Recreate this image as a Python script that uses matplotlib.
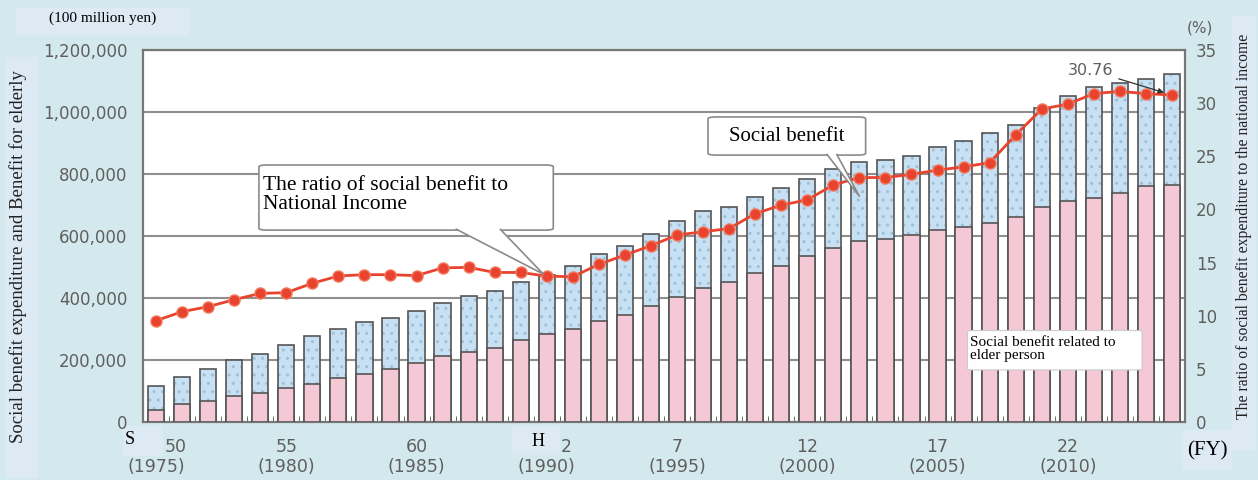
import numpy as np
import matplotlib
matplotlib.use("Agg")
import matplotlib.pyplot as plt
from matplotlib.patches import Rectangle, FancyBboxPatch, Polygon

# fiscal years 1975 (S50) .. 2014 (H26)
years = list(range(1975, 2015))

# social benefit, total (100 million yen)
total_benefit = [117100, 145000, 171000, 199000, 220000, 247000, 277000, 301000, 321000, 336500,
                 359000, 385000, 408000, 423500, 450500, 474000, 504000, 543000, 568500, 607000,
                 648500, 679500, 694500, 726500, 754500, 783000, 816500, 837500, 844000, 858000,
                 888000, 906000, 931000, 958000, 1012000, 1051500, 1081500, 1094500, 1105500, 1123500]

# social benefit related to elder person (100 million yen)
elderly_benefit = [39700, 58000, 66700, 84800, 93500, 109700, 123600, 143000, 154800, 171000,
                   189000, 213000, 226800, 239700, 264500, 282900, 300000, 325800, 345200, 374200,
                   404200, 432300, 450600, 479700, 503200, 535500, 562300, 583900, 591300, 603200,
                   619400, 628000, 643000, 660300, 692600, 713900, 721600, 739700, 761300, 763500]

# ratio of social benefit to national income (%)
ratio = [9.53, 10.38, 10.85, 11.51, 12.10, 12.17, 13.05, 13.74, 13.86, 13.86,
         13.77, 14.50, 14.55, 14.07, 14.07, 13.72, 13.67, 14.83, 15.71, 16.59,
         17.59, 17.90, 18.20, 19.60, 20.40, 20.90, 22.30, 23.00, 23.00, 23.30,
         23.70, 24.00, 24.40, 27.00, 29.45, 29.90, 30.90, 31.10, 30.90, 30.76]

tick_idx = [0, 5, 10, 15, 20, 25, 30, 35]
era_labels = ["50", "55", "60", "2", "7", "12", "17", "22"]
year_labels = ["(1975)", "(1980)", "(1985)", "(1990)", "(1995)", "(2000)", "(2005)", "(2010)"]

W, H = 1258, 480
def fx(x):
    return x / W
def fy(y):
    return 1 - y / H

bg = "#D4E9ED"
box_bg = "#DDE9F3"
gray_txt = "#5f5f5f"
serif = ["Liberation Serif", "DejaVu Serif"]

fig = plt.figure(figsize=(12.58, 4.8), dpi=100)
fig.patch.set_facecolor(bg)
ax = fig.add_axes([fx(143), fy(422), fx(1185) - fx(143), fy(50) - fy(422)])
ax.set_facecolor("white")

x = np.arange(len(years))
bw = 0.62

# gridlines
for v in range(200000, 1200001, 200000):
    ax.axhline(v, color="#8f8f8f", lw=1.5, zorder=1)

# bars: blue dotted total, pink elderly part
ax.bar(x, total_benefit, width=bw, color="#C7E0F3", edgecolor="#9fbfd6",
       hatch="..", linewidth=0, zorder=2)
ax.bar(x, total_benefit, width=bw, fill=False, edgecolor="#555555", linewidth=1.2, zorder=3)
ax.bar(x, elderly_benefit, width=bw, color="#F5C8D6", edgecolor="#555555", linewidth=1.2, zorder=4)

ax.set_xlim(-0.46, len(years) - 0.54)
ax.set_ylim(0, 1200000)
ax.set_yticks(range(0, 1200001, 200000))
ax.set_yticklabels(["{:,}".format(v) for v in range(0, 1200001, 200000)])
ax.tick_params(axis="y", length=0, pad=11, labelsize=12, labelcolor=gray_txt)
ax.set_xticks(tick_idx)
ax.set_xticklabels(year_labels)
ax.tick_params(axis="x", length=0, pad=26, labelsize=12.5, labelcolor=gray_txt)
ax.set_xticks(np.arange(-0.5, len(years), 1), minor=True)
ax.tick_params(axis="x", which="minor", direction="in", length=4, color="#555555")
for s in ax.spines.values():
    s.set_color("#777777")
    s.set_linewidth(1.6)

# era year numbers above the western years (S50 and H2 sit right of centre)
era_shift = {0: 0.75, 15: 0.75}
for i, lab in zip(tick_idx, era_labels):
    ax.text(i + era_shift.get(i, 0), -0.068, lab, transform=ax.get_xaxis_transform(),
            fontsize=12.5, color=gray_txt, ha="center", va="center")

# ratio line on right axis
ax2 = ax.twinx()
ax2.plot(x, ratio, color="#E8432E", lw=2, marker="o", markersize=8,
         markerfacecolor="#E8432E", markeredgecolor="#F27A5E", zorder=5)
ax2.set_ylim(0, 35)
ax2.set_yticks(range(0, 36, 5))
ax2.tick_params(axis="y", length=0, pad=8, labelsize=12, labelcolor=gray_txt)
for s in ax2.spines.values():
    s.set_visible(False)

# callouts (in bar-axis data coords)
def callout(x0, y0, x1, y1, base_l, base_r, tip, text, fs, tx, ty, ha):
    box = FancyBboxPatch((x0, y0), x1 - x0, y1 - y0,
                         boxstyle="round,pad=0,rounding_size=0.3",
                         mutation_aspect=20000, facecolor="white",
                         edgecolor="#8a8a8a", lw=1.2, transform=ax.transData,
                         zorder=8, clip_on=False)
    ax2.add_patch(box)
    wedge = Polygon([(base_l, y0 + 4000), tip, (base_r, y0 + 4000)], closed=False,
                    facecolor="white", edgecolor="#8a8a8a", lw=1.2,
                    transform=ax.transData, zorder=9, clip_on=False)
    ax2.add_patch(wedge)
    ax2.text(tx, ty, text, transform=ax.transData, fontsize=fs,
             family=serif, va="center", ha=ha, zorder=10, linespacing=1.05)

callout(3.95, 619000, 15.25, 829000, 11.5, 13.2, (14.87, 477000),
        "The ratio of social benefit to\nNational Income", 15.5, 4.1, 732000, "left")
callout(21.19, 861000, 27.24, 984000, 25.74, 26.12, (27.01, 727000),
        "Social benefit", 15, 24.2, 922000, "center")

# elder person label box
ax2.add_patch(FancyBboxPatch((31.15, 168000), 6.7, 127000,
                             boxstyle="round,pad=0,rounding_size=0.15",
                             mutation_aspect=20000, facecolor="white",
                             edgecolor="#cccccc", lw=0.8, transform=ax.transData, zorder=8))
ax2.text(31.25, 234000, "Social benefit related to\nelder person", transform=ax.transData,
         fontsize=11, family=serif, va="center", ha="left", zorder=10, linespacing=1.0)

# 30.76 note
ax2.annotate("30.76", xy=(39, 30.76), xytext=(35.0, 33.1), fontsize=11.5, color=gray_txt,
             va="center", ha="left",
             arrowprops=dict(arrowstyle="-|>", color="#333333", lw=0.9,
                             shrinkA=2, shrinkB=6, mutation_scale=8),
             zorder=10)

# extra labels with light boxes
def label_box(x0, y0, x1, y1):
    fig.add_artist(Rectangle((fx(x0), fy(y1)), fx(x1) - fx(x0), fy(y0) - fy(y1),
                             transform=fig.transFigure, facecolor=box_bg,
                             edgecolor="none", zorder=0))

label_box(16, 8, 190, 36)
fig.text(fx(103), fy(18), "(100 million yen)", fontsize=11, family=serif,
         ha="center", va="center")

label_box(5, 57, 38, 478)
fig.text(fx(18), fy(257), "Social benefit expenditure and Benefit for elderly",
         rotation=90, fontsize=13.5, family=serif, ha="center", va="center", color="#222222")

label_box(1232, 16, 1256, 450)
fig.text(fx(1244), fy(226), "The ratio of social benefit expenditure to the national income",
         rotation=90, fontsize=11.3, family=serif, ha="center", va="center", color="#222222")

fig.text(fx(1200), fy(28), "(%)", fontsize=11, color=gray_txt, ha="center", va="center")

label_box(1182, 430, 1232, 470)
fig.text(fx(1207), fy(451), "(FY)", fontsize=15, family=serif, ha="center", va="center")

label_box(123, 426, 163, 456)
fig.text(fx(130), fy(440), "S", fontsize=13, family=serif, ha="center", va="center")

label_box(512, 426, 560, 455)
fig.text(fx(538), fy(441), "H", fontsize=13, family=serif, ha="center", va="center")

plt.savefig("out.png", dpi=100, facecolor=fig.get_facecolor())
